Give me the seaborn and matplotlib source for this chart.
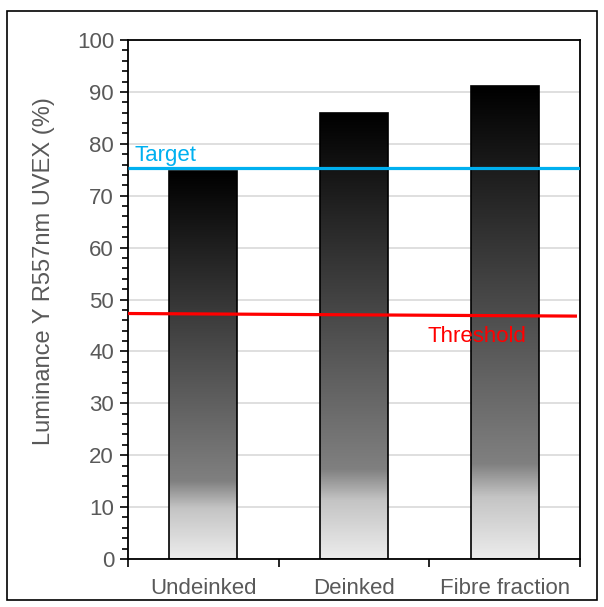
import numpy as np
import pandas as pd
import matplotlib
matplotlib.use("Agg")
import matplotlib.pyplot as plt
import seaborn as sns
from matplotlib.colors import LinearSegmentedColormap
from matplotlib.patches import Rectangle

categories = ["Undeinked", "Deinked", "Fibre fraction"]
luminance = [74.7, 85.9, 91.1]
target_value = [75.4, 75.4]
threshold_values = [47.3, 46.8]
y_ticks = [0, 10, 20, 30, 40, 50, 60, 70, 80, 90, 100]

sns.set_theme(style="white")
plt.rcParams['font.family'] = ['Liberation Sans', 'DejaVu Sans']

fig = plt.figure(figsize=(6.04, 6.07), dpi=100)
ax = fig.add_axes([128/604, 1 - 559/607, (580-128)/604, (559-40)/607])

df = pd.DataFrame({"cat": categories, "val": luminance})
sns.barplot(data=df, x="cat", y="val", ax=ax, width=0.45, color="black",
            edgecolor="black", linewidth=1.2, zorder=3)

cmap = LinearSegmentedColormap.from_list(
    "grad", [(0.0, "#ececec"), (0.13, "#c4c4c4"), (0.2, "#808080"),
             (1.0, "#000000")])
grad = np.linspace(0, 1, 256).reshape(-1, 1)
for p in ax.patches:
    x0, y0 = p.get_x(), p.get_y()
    w, h = p.get_width(), p.get_height()
    p.set_facecolor("none")
    im = ax.imshow(grad, cmap=cmap, origin="lower", aspect="auto",
                   extent=[x0, x0 + w, y0, y0 + h], zorder=2.5)
    im.set_clip_path(p)

ax.set_xlim(-0.5, 2.5)
ax.set_ylim(0, 100)
ax.set_aspect("auto")

ax.plot([-0.5, 2.5], target_value, color="#00B0F0", lw=2.3, zorder=4, solid_capstyle="butt")
ax.plot([-0.5, 2.48], threshold_values, color="#FF0000", lw=2.3, zorder=4, solid_capstyle="butt")
ax.text(-0.455, 77.8, "Target", color="#00B0F0", fontsize=16, va="center", ha="left", zorder=5)
ax.text(1.49, 42.8, "Threshold", color="#FF0000", fontsize=16, va="center", ha="left", zorder=5)

ax.set_yticks(y_ticks)
ax.set_yticks(np.arange(0, 101, 2), minor=True)
ax.set_xticks([-0.5, 0.5, 1.5, 2.5])
ax.set_xticklabels([])
ax.set_xticks([0, 1, 2], minor=True)
ax.set_xticklabels(categories, minor=True)
ax.tick_params(axis="x", which="major", direction="out", length=6, width=1.2, color="black", bottom=True)
ax.tick_params(axis="x", which="minor", length=0, labelsize=16, labelcolor="#595959", pad=14, bottom=True)
ax.tick_params(axis="y", which="major", direction="out", length=6, width=1.2, color="black",
               labelsize=16, labelcolor="#595959", left=True, pad=4)
ax.tick_params(axis="y", which="minor", direction="out", length=4, width=1.2, color="black", left=True)
ax.yaxis.grid(True, color="#d9d9d9", lw=1.2, zorder=0)
ax.set_axisbelow(True)
for s in ax.spines.values():
    s.set_color("black")
    s.set_linewidth(1.3)
    s.set_visible(True)
ax.set_xlabel("")
ax.set_ylabel("Luminance Y R557nm UVEX (%)", fontsize=17, color="#595959", labelpad=12)
ax.yaxis.set_label_coords(-0.162, 0.555)

fig.patches.append(Rectangle((7/604, 1 - 600/607), 590/604, 589/607, transform=fig.transFigure,
                             fill=False, edgecolor="black", lw=1.2))

fig.savefig("out.png", dpi=100)
